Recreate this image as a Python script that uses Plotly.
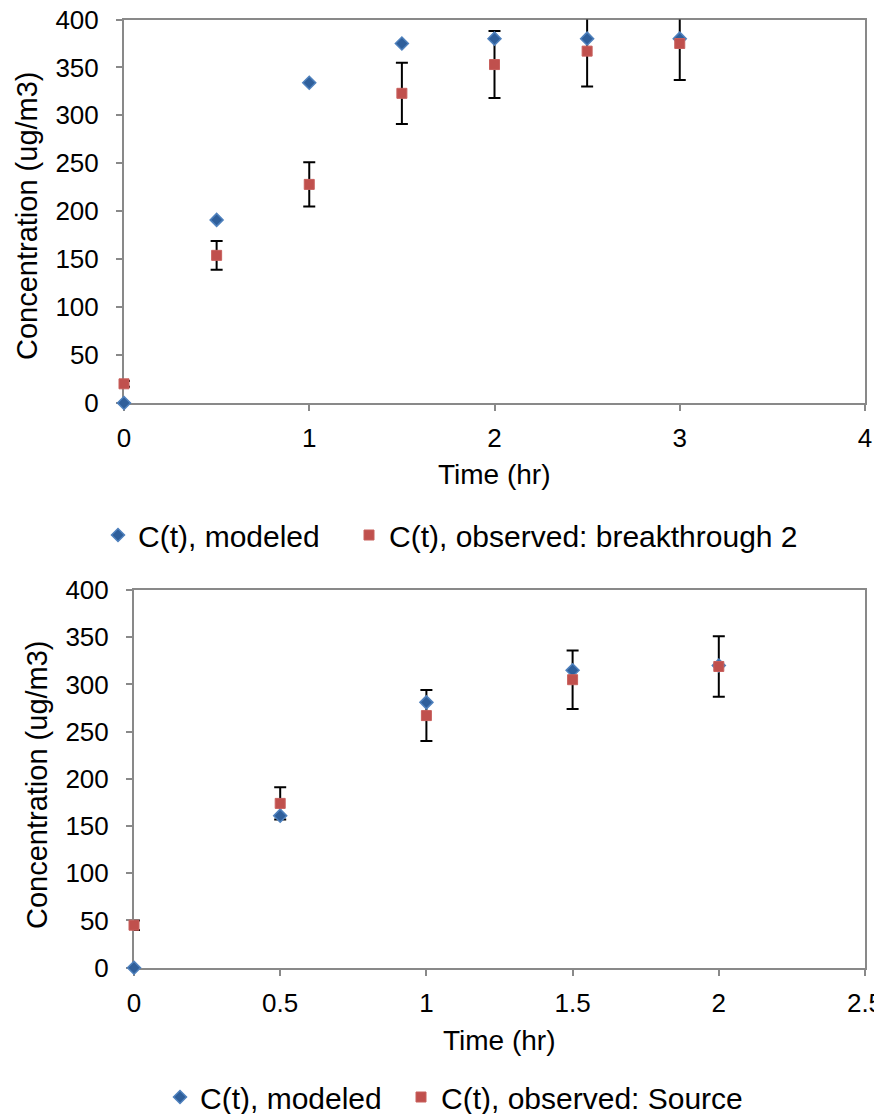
import plotly.graph_objects as go

# ---- data ----
time_top = [0, 0.5, 1, 1.5, 2, 2.5, 3]
modeled_top = [0, 191, 334, 375, 380, 380, 380]
observed_top = [20, 154, 228, 323, 353, 367, 375]
err_top = [3, 15, 23, 32, 35, 37, 38]

time_bot = [0, 0.5, 1, 1.5, 2]
modeled_bot = [0, 161, 281, 315, 320]
observed_bot = [45, 174, 267, 305, 319]
err_bot = [5, 17, 27, 31, 32]

name_mod = "C(t), modeled"
name_obs_top = "C(t), observed: breakthrough 2"
name_obs_bot = "C(t), observed: Source"

y_ticks = [0, 50, 100, 150, 200, 250, 300, 350, 400]
x_ticks_top = [0, 1, 2, 3, 4]
x_ticks_bot = [0, 0.5, 1, 1.5, 2, 2.5]

W, H = 874, 1114
FONT = "Liberation Sans, Arial, sans-serif"
BLUE_FILL = "#2F5F9B"
BLUE_LINE = "#4F81BD"
RED = "#C0504D"
AXIS = "#898989"

fig = go.Figure()

def add_panel(xs, mod, obs, err, xa, ya, leg_mod, leg_obs, obs_name):
    # error bars (clipped to plot area)
    fig.add_trace(go.Scatter(
        x=xs, y=obs, mode="markers", xaxis=xa, yaxis=ya,
        marker=dict(size=1, color="rgba(0,0,0,0)"),
        error_y=dict(type="data", array=err, visible=True, color="black",
                     thickness=2, width=6),
        cliponaxis=True, showlegend=False, hoverinfo="skip"))
    fig.add_trace(go.Scatter(
        x=xs, y=mod, mode="markers", name=name_mod, xaxis=xa, yaxis=ya,
        marker=dict(symbol="diamond", size=10, color=BLUE_FILL,
                    line=dict(color=BLUE_LINE, width=1.5)),
        cliponaxis=False, legend=leg_mod))
    fig.add_trace(go.Scatter(
        x=xs, y=obs, mode="markers", name=obs_name, xaxis=xa, yaxis=ya,
        marker=dict(symbol="square", size=10, color=RED,
                    line=dict(color="#C8605D", width=1)),
        cliponaxis=False, legend=leg_obs))

add_panel(time_top, modeled_top, observed_top, err_top, "x", "y",
          "legend", "legend3", name_obs_top)
add_panel(time_bot, modeled_bot, observed_bot, err_bot, "x2", "y2",
          "legend2", "legend4", name_obs_bot)

def px_x(p):
    return p / W

def px_y(p):
    return 1 - p / H

axis_common = dict(
    showline=True, linecolor=AXIS, linewidth=2, mirror=True,
    ticks="outside", ticklen=6, tickwidth=1.5, tickcolor=AXIS,
    showgrid=False, zeroline=False, layer="below traces",
    ticklabeloverflow="allow",
    tickfont=dict(family=FONT, size=26, color="black"),
)

def legend_at(xpx, ypx):
    return dict(orientation="h", x=px_x(xpx), xanchor="left",
                y=px_y(ypx), yanchor="middle", bgcolor="rgba(0,0,0,0)",
                font=dict(family=FONT, size=30, color="black"))

fig.update_layout(
    width=W, height=H,
    margin=dict(l=0, r=0, t=0, b=0, autoexpand=False),
    paper_bgcolor="white", plot_bgcolor="white",
    font=dict(family=FONT, color="black"),
    xaxis=dict(domain=[px_x(124), px_x(865)], anchor="y", range=[0, 4],
               tickvals=x_ticks_top, ticklabelstandoff=5, **axis_common),
    yaxis=dict(domain=[px_y(403), px_y(19.5)], anchor="x", range=[0, 400],
               tickvals=y_ticks, ticklabelstandoff=12, **axis_common),
    xaxis2=dict(domain=[px_x(134), px_x(865)], anchor="y2", range=[0, 2.5],
                tickvals=x_ticks_bot, ticklabelstandoff=5, **axis_common),
    yaxis2=dict(domain=[px_y(967.7), px_y(590)], anchor="x2", range=[0, 400],
                tickvals=y_ticks, ticklabelstandoff=12, **axis_common),
    legend=legend_at(98, 535),
    legend3=legend_at(349, 535),
    legend2=legend_at(160, 1097),
    legend4=legend_at(401, 1097),
    annotations=[
        dict(text="Time (hr)", x=px_x(494.5), y=px_y(475), xref="paper", yref="paper",
             showarrow=False, xanchor="center", yanchor="middle",
             font=dict(family=FONT, size=28, color="black")),
        dict(text="Concentration (ug/m3)", x=px_x(27), y=px_y(216), xref="paper", yref="paper",
             showarrow=False, xanchor="center", yanchor="middle", textangle=-90,
             font=dict(family=FONT, size=29, color="black")),
        dict(text="Time (hr)", x=px_x(499), y=px_y(1040), xref="paper", yref="paper",
             showarrow=False, xanchor="center", yanchor="middle",
             font=dict(family=FONT, size=28, color="black")),
        dict(text="Concentration (ug/m3)", x=px_x(37), y=px_y(785), xref="paper", yref="paper",
             showarrow=False, xanchor="center", yanchor="middle", textangle=-90,
             font=dict(family=FONT, size=29, color="black")),
    ],
)

fig.write_html("out.html")
